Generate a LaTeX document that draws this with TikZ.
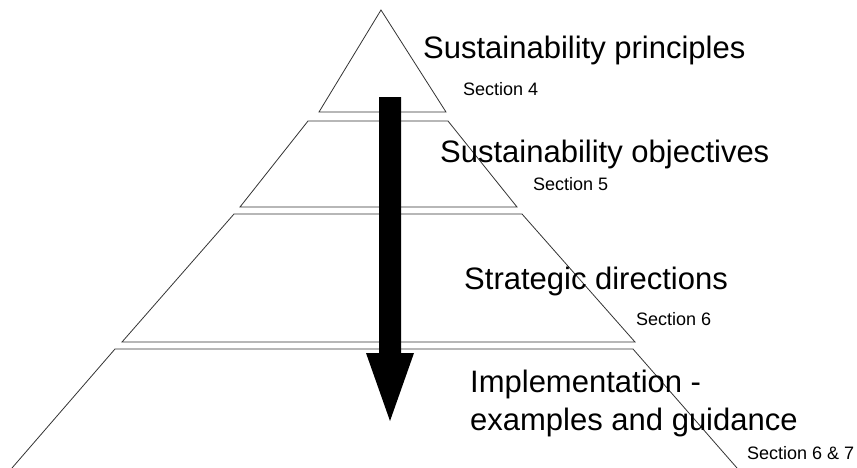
\documentclass[tikz,border=0pt]{standalone}
\usepackage{fontspec}
\setmainfont{Liberation Sans}
\usetikzlibrary{positioning}
\tikzset{
     tier/.style={draw=black!80, line width=0.8pt},
     title/.style={font=\fontsize{31}{38}\selectfont, inner sep=0pt,
                   anchor=base west, align=left},
     sect/.style={font=\fontsize{18}{21}\selectfont, inner sep=0pt,
                  anchor=base west},
     flow/.style={fill=black}
     }

\begin{document}
\begin{tikzpicture}[x=1pt, y=-1pt]
    \useasboundingbox (0,0) rectangle (857,467);
    \begin{scope}
    \clip (0,0) rectangle (857,467);
    % pyramid tiers
    \draw [tier] (319,112) -- (381,10) -- (446,112) -- cycle;
    \draw [tier] (308,121) -- (448,121) -- (517,207) -- (240,207) -- cycle;
    \draw [tier] (234,214) -- (522,214) -- (635,342) -- (122,342) -- cycle;
    \draw [tier] (12,468) -- (115,349) -- (633,349) -- (737,468);
    \end{scope}

    % downward arrow
    \path [flow] (379,97) -- (401,97) -- (401,353) -- (414,353) -- (390,421)
        -- (366,353) -- (379,353) -- cycle;

    \node [title] (principles) at (423,58) {Sustainability principles};
    \node [sect] (secP) at (463,95) {Section 4};
    \node [title] (objectives) at (440,162) {Sustainability objectives};
    \node [sect] (secO) at (533,190) {Section 5};
    \node [title] (directions) at (464,289) {Strategic directions};
    \node [sect] (secD) at (636,325) {Section 6};
    \node [title] (implementation) at (470,430) {Implementation -\\examples and guidance};
    \node [sect] (secI) at (747,459) {Section 6 \& 7};
\end{tikzpicture}
\end{document}
